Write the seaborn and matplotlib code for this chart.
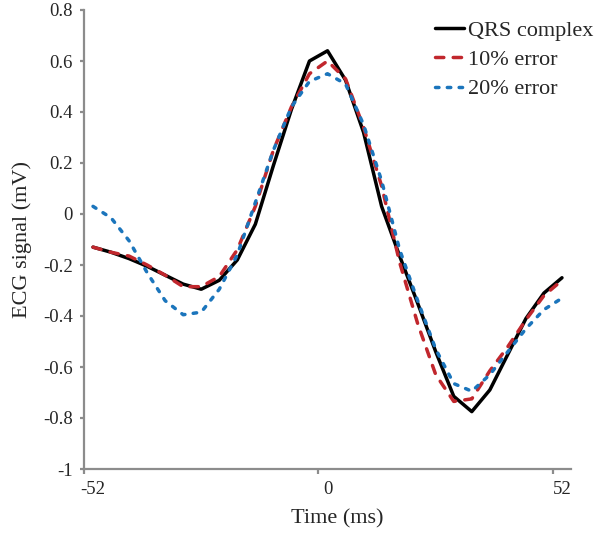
import numpy as np
import pandas as pd
import seaborn as sns
import matplotlib.pyplot as plt
from matplotlib.ticker import MultipleLocator, FuncFormatter

#%% data (4 ms sampling)
time_ms = [-52, -48, -44, -40, -36, -32, -28, -24, -20, -16, -12, -8, -4,
           0, 4, 8, 12, 16, 20, 24, 28, 32, 36, 40, 44, 48, 52]
qrs     = [-0.13, -0.15, -0.175, -0.205, -0.24, -0.275, -0.295, -0.26, -0.18,
           -0.04, 0.19, 0.41, 0.60, 0.64, 0.525, 0.32, 0.03, -0.165, -0.35,
           -0.54, -0.715, -0.775, -0.69, -0.55, -0.41, -0.31, -0.25]
err10   = [-0.13, -0.15, -0.165, -0.20, -0.24, -0.285, -0.285, -0.245, -0.14,
           0.03, 0.25, 0.42, 0.55, 0.60, 0.53, 0.34, 0.11, -0.19, -0.43,
           -0.63, -0.735, -0.725, -0.615, -0.52, -0.415, -0.32, -0.26]
err20   = [0.03, -0.015, -0.105, -0.23, -0.34, -0.395, -0.385, -0.295, -0.16,
           0.045, 0.25, 0.42, 0.52, 0.55, 0.51, 0.35, 0.13, -0.14, -0.34,
           -0.53, -0.665, -0.695, -0.63, -0.54, -0.45, -0.375, -0.33]

series_names = ['QRS complex', '10% error', '20% error']
clrs   = ['#000000', '#C1272D', '#1B75BC']
styles = ['-', (0, (2.4, 2.7)), (0, (1.0, 2.4))]

df = pd.DataFrame({'Time': time_ms, series_names[0]: qrs,
                   series_names[1]: err10, series_names[2]: err20})

#%% plot
sns.set_style('white')
plt.rcParams['font.family'] = ['Liberation Serif', 'DejaVu Serif']
plt.rcParams['axes.unicode_minus'] = False
axclr = '#8C8C8C'

fig = plt.figure(figsize=(6.12, 5.39), dpi=100)
ax = fig.add_axes([84/612, 1-469/539, (571-84)/612, (469-10)/539])

for i, name in enumerate(series_names):
    sns.lineplot(data=df, x='Time', y=name, ax=ax, color=clrs[i], lw=2.5,
                 linestyle=styles[i], dash_capstyle='round', label=name)

ax.set_xlim([-54, 54])
ax.set_ylim([-1, 0.8])
ax.set_xticks([-52, 0, 52])
ax.set_xticks([-54, -2, 50], minor=True)
ax.yaxis.set_major_locator(MultipleLocator(0.2))
ax.yaxis.set_major_formatter(FuncFormatter(lambda v, p: f'{round(v, 1):g}'))

ax.tick_params(axis='x', which='major', length=0, pad=8.6, labelsize=13.5)
ax.tick_params(axis='x', which='minor', length=3.6, width=1.6, color=axclr,
               direction='out', bottom=True)
ax.tick_params(axis='y', which='major', length=2.9, width=1.6, color=axclr,
               direction='out', left=True, pad=5, labelsize=13.5)

for side in ['top', 'right']:
    ax.spines[side].set_visible(False)
for side in ['left', 'bottom']:
    ax.spines[side].set_color(axclr)
    ax.spines[side].set_linewidth(1.6)

ax.set_xlabel('Time (ms)', fontsize=16)
ax.set_ylabel('ECG signal (mV)', fontsize=16)
ax.xaxis.set_label_coords(0.52, -0.087)
ax.yaxis.set_label_coords(-0.106, 0.5)

ax.legend(loc='upper left', bbox_to_anchor=(435/612, 1-20/539),
          bbox_transform=fig.transFigure, frameon=False, fontsize=16,
          handlelength=1.3, handletextpad=0.2, labelspacing=0.4,
          borderpad=0, borderaxespad=0)

fig.savefig('out.png', dpi=100)
